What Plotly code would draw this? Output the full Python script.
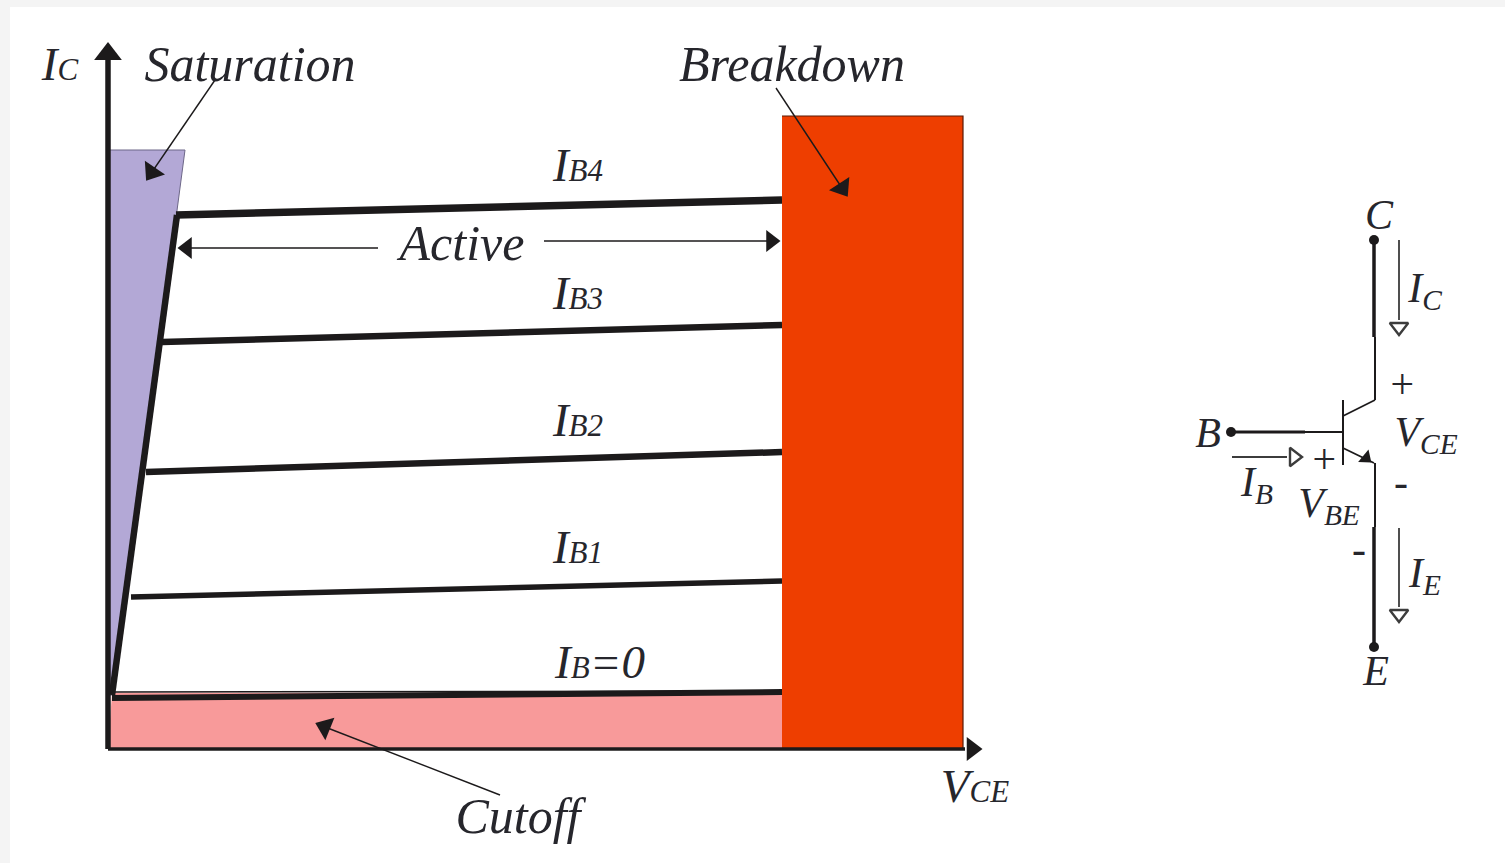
import plotly.graph_objects as go

# ---- regions (picture coordinates) ----
saturation_x = [110, 185, 113, 110]
saturation_y = [150, 150, 695, 695]
cutoff_x = [112, 782, 782, 108]
cutoff_y = [693, 693, 749, 749]
breakdown_x = [782, 963, 963, 782]
breakdown_y = [116, 116, 749, 749]

# ---- characteristic curves ----
ib4_x = [176, 782];  ib4_y = [215, 200]
ib3_x = [162, 782];  ib3_y = [342, 325]
ib2_x = [146, 782];  ib2_y = [472, 452]
ib1_x = [131, 782];  ib1_y = [597, 581]
ib0_x = [112, 782];  ib0_y = [698, 692]
ib0top_x = [115, 782]; ib0top_y = [692, 691]
sat_x = [112, 177];  sat_y = [695, 215]

# ---- axes ----
yaxis_x = [108, 108]; yaxis_y = [749, 58]
xaxis_x = [108, 965]; xaxis_y = [749, 749]

# ---- thin annotation leaders ----
active_l_x = [378, 190]; active_l_y = [248, 248]
active_r_x = [544, 768]; active_r_y = [241, 241]
sat_arrow_x = [215, 152]; sat_arrow_y = [80, 172]
brk_arrow_x = [776, 842]; brk_arrow_y = [88, 188]
cut_arrow_x = [500, 325]; cut_arrow_y = [795, 727]

# ---- arrow heads ----
head_x = [108, 972, 187, 771, 152, 842, 325]
head_y = [54, 749, 248, 241, 172, 188, 727]
head_angle = [0, 90, -90, 90, 214, 147, -68]
head_size = [24, 21, 19, 19, 21, 21, 21]

# ---- transistor ----
coll_thick_x = [1374, 1374]; coll_thick_y = [240, 337]
coll_thin_x = [1375, 1375];  coll_thin_y = [337, 400]
coll_diag_x = [1375, 1343];  coll_diag_y = [400, 416]
base_bar_x = [1343, 1343];   base_bar_y = [400, 465]
base_thick_x = [1231, 1305]; base_thick_y = [432, 432]
base_thin_x = [1305, 1343];  base_thin_y = [432, 432]
emit_diag_x = [1343, 1374];  emit_diag_y = [448, 463]
emit_thin_x = [1375, 1375];  emit_thin_y = [463, 527]
emit_thick_x = [1374, 1374]; emit_thick_y = [527, 647]
ic_arrow_x = [1399, 1399];   ic_arrow_y = [240, 320]
ie_arrow_x = [1399, 1399];   ie_arrow_y = [528, 607]
ib_arrow_x = [1232, 1287];   ib_arrow_y = [457, 457]
dot_x = [1374, 1231, 1374];  dot_y = [240, 432, 647]
hollow_x = [1399, 1399, 1294]; hollow_y = [327, 614, 457]; hollow_angle = [180, 180, 90]
emit_head_x = [1366]; emit_head_y = [458]; emit_head_angle = [130]

# ---- labels ----
region_labels = ["Saturation", "Breakdown", "Active", "Cutoff"]
region_x = [250, 792, 462, 518]
region_y = [68, 68, 247, 820]

S = '<span style="font-size:31px">{}</span>'
big_labels = ["I" + S.format("C"), "I" + S.format("B4"), "I" + S.format("B3"),
              "I" + S.format("B2"), "I" + S.format("B1"), "I" + S.format("B") + "=0",
              "V" + S.format("CE")]
big_x = [60, 578, 578, 578, 578, 600, 975]
big_y = [68, 169, 297, 424, 551, 666, 790]

small_labels = ["C", "B", "E", "I<sub>C</sub>", "I<sub>E</sub>", "I<sub>B</sub>",
                "V<sub>CE</sub>", "V<sub>BE</sub>", "+", "+", "-", "-"]
small_x = [1379, 1208, 1376, 1425, 1425, 1257, 1426, 1329, 1402, 1324, 1401, 1359]
small_y = [218, 436, 674, 291, 576, 485, 435, 506, 387, 462, 485, 552]

FONT = "Liberation Serif"
INK = "#1c1a1b"
TEXT = "#26262c"
fig = go.Figure()


def poly(x, y, fill, edge, w=1):
    fig.add_trace(go.Scatter(x=x, y=y, mode="lines", fill="toself", fillcolor=fill,
                             line=dict(color=edge, width=w), hoverinfo="skip"))


def line(x, y, w, color=INK):
    fig.add_trace(go.Scatter(x=x, y=y, mode="lines", line=dict(color=color, width=w),
                             hoverinfo="skip"))


poly(cutoff_x, cutoff_y, "#f89a9a", "#f89a9a", 0.5)
poly(saturation_x, saturation_y, "#b3a8d6", "#6d6788", 1)
for x, y, w in [(ib4_x, ib4_y, 7.5), (ib3_x, ib3_y, 6.5), (ib2_x, ib2_y, 6.5), (ib1_x, ib1_y, 5.5),
                (ib0_x, ib0_y, 6), (ib0top_x, ib0top_y, 1.5), (sat_x, sat_y, 6.5)]:
    line(x, y, w)
poly(breakdown_x, breakdown_y, "#ee3e00", "#5a1a05", 1.2)
line(yaxis_x, yaxis_y, 5.5)
line(xaxis_x, xaxis_y, 3.5)
for x, y in [(active_l_x, active_l_y), (active_r_x, active_r_y), (sat_arrow_x, sat_arrow_y),
             (brk_arrow_x, brk_arrow_y), (cut_arrow_x, cut_arrow_y)]:
    line(x, y, 1.4)
fig.add_trace(go.Scatter(x=head_x, y=head_y, mode="markers", hoverinfo="skip",
                         marker=dict(symbol="triangle-up", size=head_size, angle=head_angle,
                                     color=INK, opacity=1, line=dict(width=0))))

for x, y, w in [(coll_thick_x, coll_thick_y, 3.5), (coll_thin_x, coll_thin_y, 2),
                (coll_diag_x, coll_diag_y, 1.8), (base_bar_x, base_bar_y, 2),
                (base_thick_x, base_thick_y, 3), (base_thin_x, base_thin_y, 1.8),
                (emit_diag_x, emit_diag_y, 1.8), (emit_thin_x, emit_thin_y, 2),
                (emit_thick_x, emit_thick_y, 3.5)]:
    line(x, y, w)
for x, y in [(ic_arrow_x, ic_arrow_y), (ie_arrow_x, ie_arrow_y), (ib_arrow_x, ib_arrow_y)]:
    line(x, y, 1.8, "#3c3c3c")
fig.add_trace(go.Scatter(x=dot_x, y=dot_y, mode="markers", hoverinfo="skip",
                         marker=dict(size=10, color=INK, opacity=1, line=dict(width=0))))
fig.add_trace(go.Scatter(x=hollow_x, y=hollow_y, mode="markers", hoverinfo="skip",
                         marker=dict(symbol="triangle-up", size=16, angle=hollow_angle, opacity=1,
                                     color="white", line=dict(width=2.4, color="#3c3c3c"))))
fig.add_trace(go.Scatter(x=emit_head_x, y=emit_head_y, mode="markers", hoverinfo="skip",
                         marker=dict(symbol="triangle-up", size=14, angle=emit_head_angle, opacity=1,
                                     color=INK, line=dict(width=0))))

for x, y, t, s in [(region_x, region_y, region_labels, 50), (big_x, big_y, big_labels, 47),
                   (small_x, small_y, small_labels, 42)]:
    fig.add_trace(go.Scatter(x=x, y=y, mode="text", text=t, hoverinfo="skip",
                             textposition="middle center",
                             textfont=dict(family=FONT, size=s, style="italic", color=TEXT)))

fig.update_layout(
    width=1505, height=863, margin=dict(l=0, r=0, t=0, b=0), showlegend=False,
    paper_bgcolor="#f4f4f4", plot_bgcolor="#f4f4f4",
    xaxis=dict(range=[0, 1505], visible=False, fixedrange=True),
    yaxis=dict(range=[863, 0], visible=False, fixedrange=True),
    shapes=[dict(type="rect", layer="below", xref="paper", yref="paper",
                 x0=0.0066, x1=1.0, y0=0.0, y1=0.992,
                 fillcolor="white", line=dict(width=0))],
)
fig.write_html("out.html", config={"displayModeBar": False},
               post_script="document.body.style.margin='0';")
